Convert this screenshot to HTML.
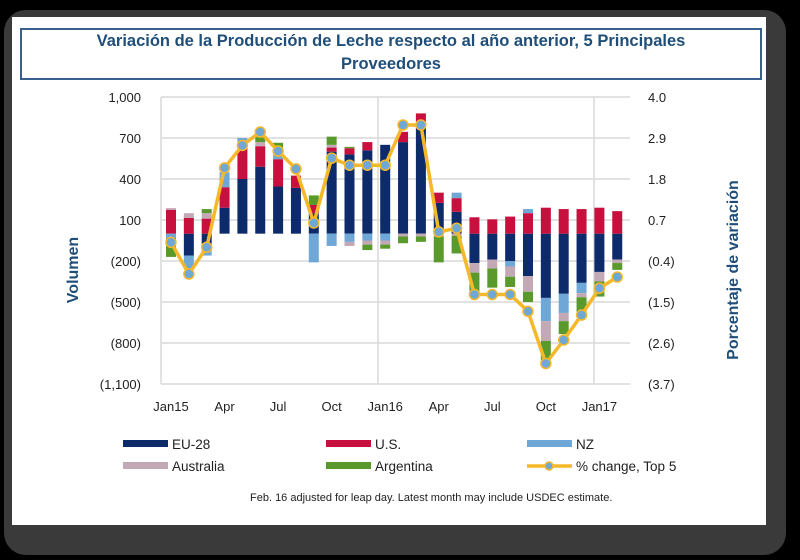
<!DOCTYPE html>
<html><head><meta charset="utf-8">
<style>
html,body{margin:0;padding:0;background:#000;}
body{width:800px;height:560px;position:relative;overflow:hidden;font-family:"Liberation Sans",sans-serif;}
#frame{position:absolute;left:4px;top:10px;width:782px;height:545px;background:#3a3a3a;border-radius:22px;}
#card{position:absolute;left:12px;top:17px;width:754px;height:508px;background:#fff;}
#title{position:absolute;left:20px;top:28px;width:738px;height:48px;border:2px solid #3a5f8f;color:#1f4e79;font-weight:bold;font-size:16.5px;text-align:center;line-height:23px;font-family:"Liberation Sans Narrow","Liberation Sans",sans-serif;}
svg{position:absolute;left:0;top:0;}
</style></head><body>
<div id="frame"></div>
<div id="card"></div>
<div id="title">Variación de la Producción de Leche respecto al año anterior, 5 Principales<br>Proveedores</div>
<svg id="chart" width="800" height="560"></svg>
<script>
const months = ["Jan15","Feb15","Mar15","Apr15","May15","Jun15","Jul15","Aug15","Sep15","Oct15","Nov15","Dec15","Jan16","Feb16","Mar16","Apr16","May16","Jun16","Jul16","Aug16","Sep16","Oct16","Nov16","Dec16","Jan17","Feb17"];
const eu = [0,-160,-120,190,400,490,345,335,150,600,580,610,650,670,800,225,160,-215,-190,-200,-310,-470,-440,-360,-280,-190];
const us = [175,115,110,150,260,150,200,90,60,30,45,60,0,75,80,75,100,120,105,125,150,190,180,180,190,165];
const nz = [-30,-100,-40,110,40,0,30,0,-210,-90,-60,-50,-50,0,0,0,40,0,0,-40,30,-170,-140,-75,0,0];
const aus = [12,35,40,0,0,30,30,0,0,20,-30,-30,-30,-20,-20,-20,-15,-70,-65,-75,-115,-145,-60,-30,-70,-25];
const arg = [-140,0,30,0,0,90,60,0,70,60,10,-40,-30,-50,-40,-190,-130,-160,-140,-75,-75,-145,-95,-150,-110,-50];
const pct = [0.1,-0.75,-0.03,2.1,2.7,3.06,2.55,2.07,0.62,2.36,2.17,2.17,2.17,3.25,3.25,0.38,0.48,-1.3,-1.3,-1.3,-1.75,-3.15,-2.52,-1.85,-1.13,-0.83];
const leftTicks = ["1,000","700","400","100","(200)","(500)","(800)","(1,100)"];
const leftVals = [1000,700,400,100,-200,-500,-800,-1100];
const rightTicks = ["4.0","2.9","1.8","0.7","(0.4)","(1.5)","(2.6)","(3.7)"];
const xLabels = ["Jan15","Apr","Jul","Oct","Jan16","Apr","Jul","Oct","Jan17"];
const xLabelIdx = [0,3,6,9,12,15,18,21,24];

const NS="http://www.w3.org/2000/svg";
const svg=document.getElementById('chart');
const plotTop=97,plotBot=384,plotLeft=161,plotRight=630;
const yL=v=>plotTop+(1000-v)/2100*(plotBot-plotTop);
const yR=p=>plotTop+(4.0-p)/7.7*(plotBot-plotTop);
const xC=i=>171+i*17.85;
function mk(t,a){const e=document.createElementNS(NS,t);for(const k in a)e.setAttribute(k,a[k]);svg.appendChild(e);return e;}

for(let i=0;i<leftVals.length;i++){
  const y=yL(leftVals[i]);
  const g=mk('line',{x1:plotLeft,x2:plotRight,y1:y,y2:y,stroke:'#d9d9d9','stroke-width':1.5});
  
  
  const t=mk('text',{x:141,y:y+5,'text-anchor':'end','font-size':13,fill:'#222'});
  t.textContent=leftTicks[i];
  
  
  const r=mk('text',{x:648,y:y+5,'font-size':13,fill:'#222'});
  r.textContent=rightTicks[i];
  
  
}
[plotLeft,378,594].forEach(x=>{
  const v=mk('line',{x1:x,x2:x,y1:plotTop,y2:plotBot,stroke:'#d9d9d9','stroke-width':1.5});
  
  
});
xLabelIdx.forEach((idx,k)=>{
  const t=mk('text',{x:xC(idx),y:411,'text-anchor':'middle','font-size':13,fill:'#222'});
  t.textContent=xLabels[k];
  
  
});

const series=[[eu,'#0d2a6b','eu-28'],[us,'#c8103e','us'],[nz,'#6fa8d6','nz'],[aus,'#c3a9b6','australia'],[arg,'#5a9a2c','argentina']];
for(let i=0;i<months.length;i++){
  let pos=0,neg=0;
  series.forEach(s=>{
    const v=s[0][i]; if(!v) return;
    let a,b;
    if(v>0){a=pos;b=pos+v;pos=b;}else{a=neg;b=neg+v;neg=b;}
    const y1=yL(Math.max(a,b)),y2=yL(Math.min(a,b));
    const r=mk('rect',{x:xC(i)-5,y:y1,width:10,height:y2-y1,fill:s[1]});
    
    
  });
}
const pts=pct.map((p,i)=>xC(i)+','+yR(p)).join(' ');
const pl=mk('polyline',{points:pts,fill:'none',stroke:'#f5b82a','stroke-width':3.5,'stroke-linejoin':'round'});


pct.forEach((p,i)=>{
  const c=mk('circle',{cx:xC(i),cy:yR(p),r:5,fill:'#6fa8d6',stroke:'#f5b82a','stroke-width':1.5});
  
  
});

const yt=mk('text',{x:0,y:0,transform:'translate(78,270) rotate(-90)','text-anchor':'middle','font-size':16,'font-weight':'bold',fill:'#1f4e79'});
yt.textContent='Volumen';


const yt2=mk('text',{x:0,y:0,transform:'translate(738,270) rotate(-90)','text-anchor':'middle','font-size':16,'font-weight':'bold',fill:'#1f4e79'});
yt2.textContent='Porcentaje de variación';



const legend=[[123,444,'#0d2a6b','EU-28'],[326,444,'#c8103e','U.S.'],[527,444,'#6fa8d6','NZ'],[123,466,'#c3a9b6','Australia'],[326,466,'#5a9a2c','Argentina']];
legend.forEach(l=>{
  const r=mk('rect',{x:l[0],y:l[1]-4,width:45,height:7,fill:l[2]});
  
  
  const t=mk('text',{x:l[0]+49,y:l[1]+5,'font-size':13.5,fill:'#222'});
  t.textContent=l[3];
  
  
});
const ll=mk('line',{x1:527,x2:572,y1:466,y2:466,stroke:'#f5b82a','stroke-width':3.5});


const lc=mk('circle',{cx:549,cy:466,r:4,fill:'#6fa8d6',stroke:'#f5b82a','stroke-width':1.5});


const lt=mk('text',{x:576,y:471,'font-size':13.5,fill:'#222'});
lt.textContent='% change, Top 5';


const note=mk('text',{x:250,y:501,'font-size':11,fill:'#222'});
note.textContent='Feb. 16 adjusted for leap day. Latest month may include USDEC estimate.';


</script>
</body></html>
